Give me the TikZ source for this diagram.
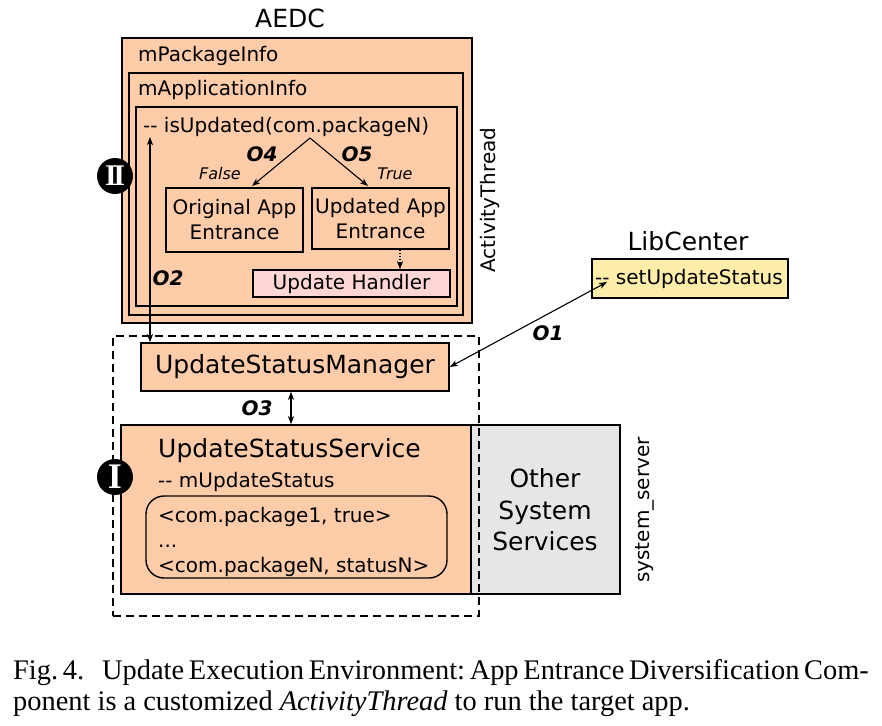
\documentclass[tikz,border=0pt]{standalone}
\usepackage{fontspec}
\setmainfont{DejaVu Sans}
\newfontfamily\capfont{Liberation Serif}
\newfontfamily\badgefont{Liberation Serif}
\usetikzlibrary{arrows.meta}
\definecolor{peach}{RGB}{255,204,170}
\definecolor{libyellow}{RGB}{255,238,170}
\definecolor{hpink}{RGB}{255,214,214}
\definecolor{sgray}{RGB}{230,230,230}
\newcommand\fsz[2]{\fontsize{#1}{#2}\selectfont}
\newcommand\dd{{-}{-}}
\tikzset{
  box/.style={draw=black, line width=1.6pt, fill=peach, inner sep=0pt, rectangle},
  txt/.style={inner sep=0pt, font=\fsz{20}{25}},
  bigtxt/.style={inner sep=0pt, font=\fsz{25}{31.5}},
  olbl/.style={inner sep=0pt, font=\fsz{20}{24}\bfseries\itshape},
  tf/.style={inner sep=0pt, font=\fsz{16}{19}\itshape},
  conn/.style={line width=1.1pt, -{Stealth[length=8pt,width=6pt,inset=2pt]}},
  dconn/.style={line width=1.1pt, {Stealth[length=8pt,width=6pt,inset=2pt]}-{Stealth[length=8pt,width=6pt,inset=2pt]}},
  badge/.style={circle, fill=black, minimum size=36pt, inner sep=0pt, text=white},
  captxt/.style={inner sep=0pt, font=\capfont\fsz{28.4}{31}\frenchspacing, anchor=base west}
}
\begin{document}
\begin{tikzpicture}[x=1pt,y=-1pt]
\useasboundingbox (0,0) rectangle (882,725);
% AEDC nested boxes
\node[bigtxt, anchor=base] (aedc) at (290,28) {AEDC};
\node[box, minimum width=350pt, minimum height=285pt] (pkg) at (297,180.5) {};
\node[txt, anchor=base west] (pkgt) at (138,62) {mPackageInfo};
\node[box, minimum width=334pt, minimum height=242pt] (app) at (296,194) {};
\node[txt, anchor=base west] (appt) at (138,95) {mApplicationInfo};
\node[box, minimum width=321pt, minimum height=199pt] (inner) at (296.5,206.5) {};
\node[txt, anchor=base west] (isu) at (143,132) {\dd{} isUpdated(com.packageN)};
\node[box, minimum width=137pt, minimum height=64pt, align=center, font=\fsz{20}{25}] (orig) at (234.5,220) {Original App\\Entrance};
\node[box, minimum width=137pt, minimum height=61pt, align=center, font=\fsz{20}{25}] (upd) at (380.5,218.5) {Updated App\\Entrance};
\node[box, fill=hpink, minimum width=197pt, minimum height=27pt, font=\fsz{20}{24}] (handler) at (351.5,283.5) {Update Handler};
\node[olbl] (o4) at (262,154) {O4};
\node[olbl] (o5) at (357,154) {O5};
\node[tf] (false) at (220,174) {False};
\node[tf] (true) at (395,174) {True};
\node[olbl] (o2) at (168,278) {O2};
\node[txt, rotate=90] (at) at (490,200) {ActivityThread};
\node[badge] (b2) at (115,176) {\badgefont\fsz{30}{30}\bfseries I\kern-3.5pt I};
% arrows in AEDC
\coordinate (apex) at (310,138);
\coordinate (o4end) at (252,186);
\coordinate (o5end) at (368,186);
\draw[conn] (apex) -- (o4end);
\draw[conn] (apex) -- (o5end);
\draw[conn, dotted] (upd.south -| 400,0) -- (handler.north -| 400,0);
% LibCenter
\node[bigtxt, anchor=base] (libt) at (688,250) {LibCenter};
\node[box, fill=libyellow, minimum width=196pt, minimum height=39pt] (lib) at (690,278.5) {};
\node[txt, anchor=base west] (libs) at (595,284) {\dd{} setUpdateStatus};
% system_server
\node[box, minimum width=308pt, minimum height=48pt, font=\fsz{25}{30}] (mgr) at (295,367) {UpdateStatusManager};
\node[box, minimum width=350pt, minimum height=169pt] (svc) at (296,509.5) {};
\node[box, fill=sgray, minimum width=149pt, minimum height=169pt] (other) at (545.5,509.5) {};
\node[bigtxt, align=center] (othert) at (545,510) {Other\\System\\Services};
\node[draw, dashed, dash pattern=on 8pt off 5pt, line width=1.4pt, minimum width=366pt, minimum height=280pt, inner sep=0pt] (sys) at (296,476) {};
\node[bigtxt, anchor=base west] (svct) at (158,457) {UpdateStatusService};
\node[txt, anchor=base west] (mus) at (158,487) {\dd{} mUpdateStatus};
\node[draw, line width=1.4pt, rounded corners=18pt, minimum width=301pt, minimum height=82pt, inner sep=0pt] (map) at (296.5,537) {};
\node[txt, anchor=base west] (m1) at (158,522) {<com.package1, true>};
\node[txt, anchor=base west] (m2) at (158,547) {...};
\node[txt, anchor=base west] (m3) at (158,572) {<com.packageN, statusN>};
\node[txt, rotate=90] (ss) at (645,510) {system\_server};
\node[badge] (b1) at (115,477) {\badgefont\fsz{36}{36}\bfseries I};
% connectors
\coordinate (o2top) at (150,137);
\draw[dconn] (o2top) -- (o2top |- mgr.north);
\node[olbl] (o3) at (257,408) {O3};
\draw[dconn] (mgr.south -| 291,0) -- (svc.north -| 291,0);
\coordinate (libdash) at (607,282);
\draw[dconn] (mgr.east) -- (libdash);
\node[olbl] (o1) at (548,333) {O1};
% caption
\node[captxt] (cap1) at (13,679) {\makebox[854pt][s]{Fig. 4.\hspace{18pt}Update Execution Environment: App Entrance Diversification Com-}};
\node[captxt] (cap2) at (13,710) {ponent is a customized \textit{ActivityThread} to run the target app.};
\end{tikzpicture}
\end{document}
